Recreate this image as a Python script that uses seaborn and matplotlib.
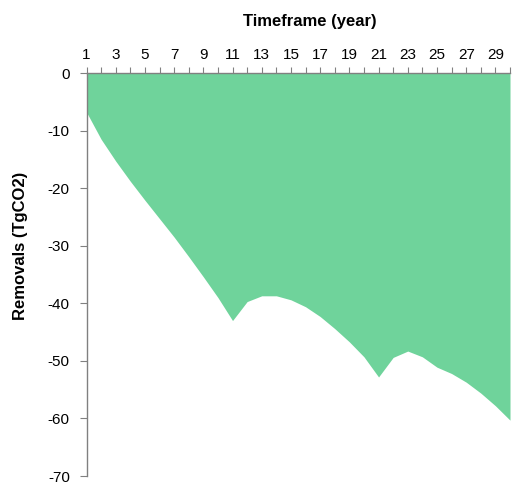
import matplotlib
matplotlib.use("Agg")
import matplotlib.pyplot as plt
import seaborn as sns
import pandas as pd

years = list(range(1, 31))
removals = [-6.8, -11.5, -15.3, -18.8, -22.1, -25.3, -28.5, -31.9, -35.4, -39.0,
            -43.0, -39.7, -38.7, -38.7, -39.4, -40.6, -42.3, -44.4, -46.7, -49.3,
            -52.8, -49.4, -48.3, -49.3, -51.1, -52.2, -53.7, -55.6, -57.8, -60.3]
yticks = [0, -10, -20, -30, -40, -50, -60, -70]

sns.set_style("white")
plt.rcParams['font.family'] = ['Liberation Sans', 'DejaVu Sans']
plt.rcParams['text.color'] = 'black'
plt.rcParams['axes.labelcolor'] = 'black'
plt.rcParams['xtick.color'] = 'black'
plt.rcParams['ytick.color'] = 'black'

df = pd.DataFrame({"year": years, "removals": removals})
color = "#6fd39b"

fig = plt.figure(figsize=(5.12, 4.83), dpi=100)
ax = fig.add_axes([86.5 / 512, 1 - 476 / 483, (510 - 86.5) / 512, (476 - 73) / 483])

sns.lineplot(data=df, x="year", y="removals", color=color, lw=0, ax=ax)
ax.fill_between(df["year"], df["removals"], 0, color=color, lw=0)

ax.set_xlim(1, 30)
ax.set_ylim(-70, 0)
ax.set_yticks(yticks)
ax.set_yticklabels([str(v) for v in yticks], fontsize=11)

ax.xaxis.tick_top()
ax.xaxis.set_label_position("top")
ax.set_xticks(years)
ax.set_xticklabels([str(v) if v % 2 == 1 else "" for v in years], fontsize=11)

for s in ["bottom", "right"]:
    ax.spines[s].set_visible(False)
for s in ["top", "left"]:
    ax.spines[s].set_color("#808080")
    ax.spines[s].set_linewidth(1.0)

ax.tick_params(axis="x", direction="out", length=4, color="#808080", labelcolor="black",
               pad=4, top=True, bottom=False)
ax.tick_params(axis="y", direction="out", length=5, color="#808080", labelcolor="black",
               pad=7, left=True)

ax.set_xlabel("Timeframe (year)", fontsize=12, fontweight="bold", color="black")
ax.set_ylabel("Removals (TgCO2)", fontsize=12, fontweight="bold", color="black")
ax.xaxis.set_label_coords((310 - 86.5) / 423.5, (476 - 26) / 403)
ax.yaxis.set_label_coords((28 - 86.5) / 423.5, (476 - 246) / 403)

fig.savefig("out.png", dpi=100)
